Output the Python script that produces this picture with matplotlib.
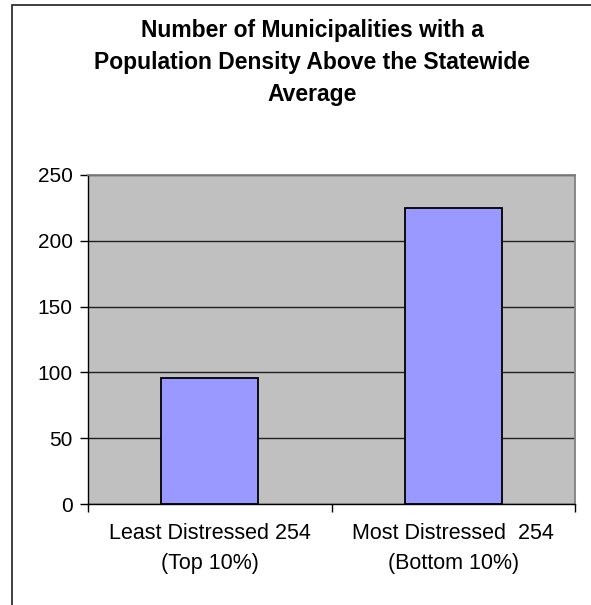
import matplotlib.pyplot as plt
from matplotlib.patches import Rectangle

plt.rcParams['font.family'] = ['Liberation Sans', 'DejaVu Sans']

# Municipality counts by distress group
categories = ['Least Distressed 254\n(Top 10%)', 'Most Distressed  254\n(Bottom 10%)']
counts = [96, 225]
yticks = [0, 50, 100, 150, 200, 250]

fig = plt.figure(figsize=(5.91, 6.05), dpi=100)
ax = fig.add_axes([88 / 591, 1 - 504 / 605, 487 / 591, 329 / 605])

ax.set_facecolor('#C0C0C0')
ax.bar(range(len(counts)), counts, width=0.4, color='#9999FF',
       edgecolor='black', linewidth=1.3, zorder=3)

ax.set_xlim(-0.5, len(counts) - 0.5)
ax.set_ylim(0, 250)
ax.set_yticks(yticks)
ax.yaxis.grid(True, color='#202020', linewidth=1, zorder=1)

ax.set_xticks(range(len(counts)))
ax.set_xticklabels(categories, fontsize=15.5, linespacing=1.55)
ax.set_xticks([-0.5, 0.5, 1.5], minor=True)
ax.tick_params(axis='x', which='major', length=0, pad=14)
ax.tick_params(axis='x', which='minor', length=6, width=1, color='black')
ax.tick_params(axis='y', length=6, width=1, labelsize=15, pad=5)

for side in ('left', 'bottom'):
    ax.spines[side].set_color('black')
    ax.spines[side].set_linewidth(1)
for side in ('top', 'right'):
    ax.spines[side].set_color('#808080')
    ax.spines[side].set_linewidth(1.3)

fig.text(312 / 591, 1 - 63 / 605,
         'Number of Municipalities with a\nPopulation Density Above the Statewide\nAverage',
         ha='center', va='center', fontsize=16.5, fontweight='bold', linespacing=1.5)

# outer chart frame
fig.patches.append(Rectangle((12 / 591, -0.05), 1.0, 1 - 5 / 605 + 0.05,
                             transform=fig.transFigure, fill=False,
                             edgecolor='#303030', linewidth=1.3))

fig.savefig('out.png', dpi=100)
